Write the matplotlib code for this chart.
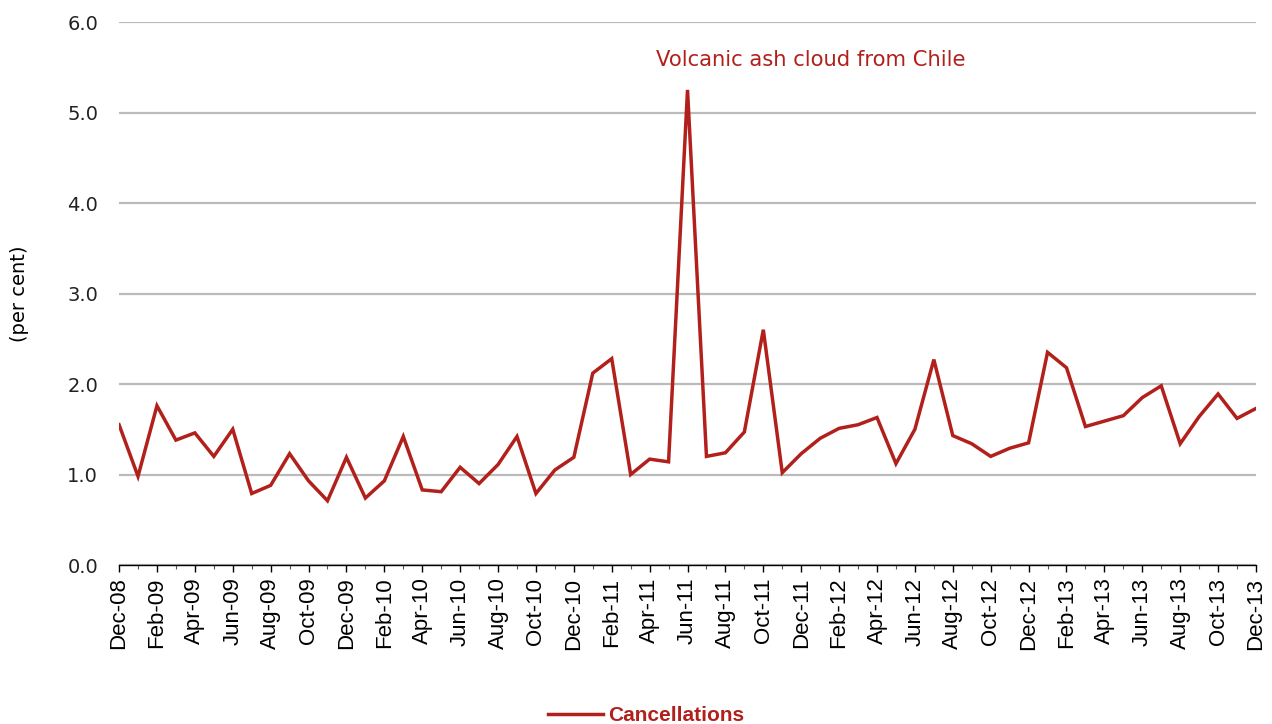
import matplotlib
matplotlib.use('Agg')
import matplotlib.pyplot as plt
import pandas as pd

# Monthly cancellations, Dec-08 .. Dec-13 (per cent)
months = pd.date_range('2008-12-01', '2013-12-01', freq='MS')
cancellations = [
    1.55, 0.98, 1.76, 1.38, 1.46, 1.20, 1.50, 0.79, 0.88, 1.23, 0.93, 0.71,
    1.19, 0.74, 0.93, 1.42, 0.83, 0.81, 1.08, 0.90, 1.11, 1.42, 0.79, 1.05,
    1.19, 2.12, 2.28, 1.00, 1.17, 1.14, 5.25, 1.20, 1.24, 1.47, 2.60, 1.02,
    1.23, 1.40, 1.51, 1.55, 1.63, 1.12, 1.50, 2.27, 1.43, 1.34, 1.20, 1.29,
    1.35, 2.35, 2.18, 1.53, 1.59, 1.65, 1.85, 1.98, 1.34, 1.64, 1.89, 1.62,
    1.73,
]
month_labels = [d.strftime('%b-%y') for d in months]
y_ticks = [0, 1, 2, 3, 4, 5, 6]
annotation = 'Volcanic ash cloud from Chile'

red = '#B2201C'
x = list(range(len(months)))

fig = plt.figure(figsize=(12.72, 7.24), dpi=100)
ax = fig.add_axes([0.0936, 0.2196, 0.8938, 0.75])

ax.plot(x, cancellations, color=red, linewidth=2.5, label='Cancellations',
        solid_joinstyle='miter', zorder=3)

ax.set_xlim(0, len(months) - 1)
ax.set_ylim(0, 6)
ax.set_yticks(y_ticks)
ax.set_yticklabels([f'{v:.1f}' for v in y_ticks], family='DejaVu Sans', fontsize=14)
ax.yaxis.grid(True, color='#BBBBBB', linewidth=1.6)
ax.set_axisbelow(True)
ax.tick_params(axis='y', length=0, pad=15, colors='#222222')

ax.set_xticks(x[::2])
ax.set_xticks(x, minor=True)
ax.set_xticklabels(month_labels[::2], rotation=90, family='Liberation Sans',
                   fontsize=16)
ax.tick_params(axis='x', which='major', length=5, width=1, pad=4)
ax.tick_params(axis='x', which='minor', length=3, width=0.8, color='#555555')

for side in ['top', 'right', 'left']:
    ax.spines[side].set_visible(False)
ax.spines['bottom'].set_color('black')
ax.spines['bottom'].set_linewidth(1)

ax.set_ylabel('(per cent)', family='DejaVu Sans', fontsize=14)
ax.yaxis.set_label_coords(-0.079, 0.5)

ax.text(36.5, 5.58, annotation, color=red, fontsize=15.2, family='DejaVu Sans',
        ha='center', va='center')

fig.legend(loc='lower center', bbox_to_anchor=(0.508, -0.027), frameon=False,
           handlelength=2.6, handletextpad=0.25,
           prop={'family': 'Liberation Sans', 'weight': 'bold', 'size': 15},
           labelcolor=red)

fig.savefig('out.png', dpi=100)
